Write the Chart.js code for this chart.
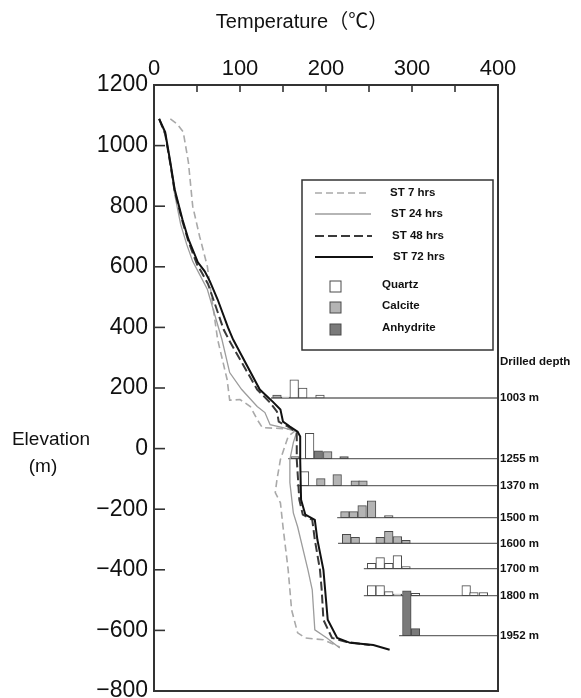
<!DOCTYPE html>
<html><head><meta charset="utf-8">
<script src="https://cdn.jsdelivr.net/npm/chart.js@4.4.0/dist/chart.umd.min.js"></script>
<style>html,body{margin:0;padding:0;background:#fff;}</style>
</head><body>
<canvas id="c" width="581" height="698"></canvas>
<script>
// ---- axis ticks ----
const tempTicks = [0, 100, 200, 300, 400];
const tempMinorTicks = [50, 100, 150, 200, 250, 300, 350];
const elevTicks = [1200, 1000, 800, 600, 400, 200, 0, -200, -400, -600, -800];

// ---- temperature profiles (temperature °C, elevation m) ----
const st7Temp = [19, 27, 34, 40, 45, 53, 62, 68, 74, 85, 88, 92, 100, 112, 120, 126, 150, 166, 156, 147, 143, 141, 147, 150, 156, 158, 160, 167, 176, 197, 216];
const st7Elev = [1088, 1071, 1045, 945, 800, 701, 602, 480, 360, 228, 160, 160, 162, 139, 96, 69, 66, 63, 40, -36, -102, -145, -179, -258, -400, -466, -532, -608, -625, -631, -655];

const st24Temp = [6, 13, 19, 24, 31, 38, 45, 53, 62, 79, 88, 102, 120, 129, 135, 150, 166, 162, 158, 158, 162, 167, 179, 184, 187, 201, 216];
const st24Elev = [1088, 1038, 939, 840, 740, 674, 618, 575, 526, 360, 251, 195, 139, 119, 79, 69, 56, 20, -36, -112, -212, -258, -400, -466, -598, -625, -658];

const st48Temp = [6, 13, 19, 24, 33, 40, 50, 56, 63, 81, 88, 120, 135, 143, 145, 158, 166, 166, 169, 173, 184, 187, 193, 195, 197, 207, 224, 251];
const st48Elev = [1088, 1038, 939, 850, 750, 684, 608, 579, 542, 393, 354, 195, 152, 122, 89, 69, 53, -36, -169, -218, -235, -301, -400, -466, -565, -625, -638, -648];

const st72Temp = [6, 13, 19, 24, 33, 40, 51, 59, 65, 74, 86, 92, 123, 138, 147, 150, 158, 167, 170, 170, 171, 176, 187, 190, 197, 199, 202, 213, 228, 255, 274];
const st72Elev = [1088, 1045, 945, 856, 757, 691, 615, 585, 552, 492, 400, 360, 195, 155, 129, 89, 73, 56, 40, -36, -169, -218, -235, -301, -400, -466, -565, -625, -641, -648, -664];

// ---- drilled depths (baselines of the mineral histograms) ----
const depthLabels = ['1003 m', '1255 m', '1370 m', '1500 m', '1600 m', '1700 m', '1800 m', '1952 m'];
const depthElev = [167, -33, -122, -228, -313, -396, -485, -617];
const depthStartTemp = [136, 156, 166, 213, 214, 244, 244, 285];

// ---- mineral histogram bars: [depth index, temperature °C, bar height m] ----
const quartzBars = [
  [0, 153, 3], [0, 163, 60], [0, 173, 33], [0, 193, 10],
  [1, 181, 83],
  [2, 175, 46],
  [5, 253, 17], [5, 263, 36], [5, 273, 17], [5, 283, 43], [5, 293, 7],
  [6, 253, 33], [6, 263, 33], [6, 273, 13], [6, 283, 5], [6, 304, 7], [6, 363, 33], [6, 372, 10], [6, 383, 10]
];
const calciteBars = [
  [0, 143, 10],
  [1, 164, 7], [1, 202, 23],
  [2, 194, 23], [2, 213, 36], [2, 234, 16], [2, 243, 16],
  [3, 222, 20], [3, 232, 20], [3, 242, 40], [3, 253, 56], [3, 273, 7],
  [4, 224, 30], [4, 234, 20], [4, 263, 20], [4, 273, 40], [4, 283, 23], [4, 293, 10]
];
const anhydriteBars = [
  [1, 191, 26], [1, 221, 7],
  [7, 294, 148], [7, 304, 23]
];

const FONT = '"Liberation Sans", "Noto Sans CJK JP", Arial, sans-serif';

function profile(label, temps, elevs, color, width, dash, order) {
  return {
    type: 'line', label,
    data: temps.map((t, i) => ({x: t, y: elevs[i]})),
    borderColor: color, borderWidth: width, borderDash: dash,
    pointRadius: 0, tension: 0, fill: false, order
  };
}

const datasets = [];
depthElev.forEach((e, i) => {
  datasets.push({
    type: 'line', label: 'base' + i,
    data: [{x: depthStartTemp[i], y: e}, {x: 400, y: e}],
    borderColor: '#6a6a6a', borderWidth: 1.3, pointRadius: 0, order: 6
  });
});
// one bar dataset per mineral and depth, sorted by temperature
[[quartzBars, '#ffffff', 'Quartz'], [calciteBars, '#b4b4b4', 'Calcite'], [anhydriteBars, '#7a7a7a', 'Anhydrite']].forEach(([list, fill, name]) => {
  depthElev.forEach((e, d) => {
    const rows = list.filter(b => b[0] === d).sort((p, q) => p[1] - q[1]);
    if (!rows.length) return;
    datasets.push({
      type: 'bar', label: name + d,
      data: rows.map(b => ({x: b[1], y: [e, e + b[2]]})),
      backgroundColor: fill, borderColor: '#4a4a4a', borderWidth: 1,
      borderSkipped: false, barThickness: 8.6, grouped: false, order: 5
    });
  });
});
datasets.push(profile('ST 7 hrs', st7Temp, st7Elev, '#a9a9a9', 1.6, [7, 4], 4));
datasets.push(profile('ST 24 hrs', st24Temp, st24Elev, '#9c9c9c', 1.3, [], 3));
datasets.push(profile('ST 48 hrs', st48Temp, st48Elev, '#3a3a3a', 2, [9, 4], 2));
datasets.push(profile('ST 72 hrs', st72Temp, st72Elev, '#111111', 2, [], 1));

const decor = {
  id: 'decor',
  afterDraw(chart) {
    const {ctx, chartArea: a, scales: {x, y}} = chart;
    ctx.save();
    // frame
    ctx.strokeStyle = '#333'; ctx.lineWidth = 2;
    ctx.strokeRect(a.left, a.top, a.right - a.left, a.bottom - a.top);
    // inward ticks
    ctx.lineWidth = 1.6;
    tempMinorTicks.forEach(t => {
      const px = x.getPixelForValue(t);
      ctx.beginPath(); ctx.moveTo(px, a.top); ctx.lineTo(px, a.top + 7); ctx.stroke();
    });
    elevTicks.forEach(v => {
      if (v === 1200 || v === -800) return;
      const py = y.getPixelForValue(v);
      ctx.beginPath(); ctx.moveTo(a.left, py); ctx.lineTo(a.left + 11, py); ctx.stroke();
    });
    // titles
    ctx.fillStyle = '#111';
    ctx.font = '20px ' + FONT;
    ctx.textAlign = 'center'; ctx.textBaseline = 'middle';
    ctx.fillText('Temperature（℃）', 302, 22);
    ctx.font = '19px ' + FONT;
    ctx.fillText('Elevation', 51, 440);
    ctx.fillText('(m)', 43, 467);
    // legend box
    const bx = a.left + 148, by = a.top + 95;
    ctx.strokeStyle = '#333'; ctx.lineWidth = 1.5;
    ctx.strokeRect(bx, by, 191, 170);
    const lines = [
      ['ST 7 hrs', '#a9a9a9', 1.6, [7, 4], 13],
      ['ST 24 hrs', '#9c9c9c', 1.3, [], 34],
      ['ST 48 hrs', '#3a3a3a', 2, [9, 4], 56],
      ['ST 72 hrs', '#111111', 2, [], 77]
    ];
    ctx.font = 'bold 11.5px ' + FONT;
    ctx.textAlign = 'left';
    lines.forEach((l, i) => {
      ctx.strokeStyle = l[1]; ctx.lineWidth = l[2]; ctx.setLineDash(l[3]);
      ctx.beginPath(); ctx.moveTo(bx + 13, by + l[4]); ctx.lineTo(bx + 68 + i, by + l[4]); ctx.stroke();
      ctx.setLineDash([]);
      ctx.fillStyle = '#111';
      ctx.fillText(l[0], bx + 88 + i, by + l[4]);
    });
    const mins = [['Quartz', '#ffffff', 107], ['Calcite', '#b4b4b4', 128], ['Anhydrite', '#7a7a7a', 150]];
    mins.forEach(m => {
      ctx.fillStyle = m[1]; ctx.strokeStyle = '#4a4a4a'; ctx.lineWidth = 1;
      ctx.fillRect(bx + 28, by + m[2] - 6, 11, 11);
      ctx.strokeRect(bx + 28, by + m[2] - 6, 11, 11);
      ctx.fillStyle = '#111';
      ctx.fillText(m[0], bx + 80, by + m[2] - 2);
    });
    // drilled depth labels
    ctx.font = 'bold 11.5px ' + FONT;
    ctx.fillText('Drilled depth', a.right + 2, y.getPixelForValue(285));
    depthElev.forEach((e, i) => {
      ctx.fillText(depthLabels[i], a.right + 2, y.getPixelForValue(e));
    });
    ctx.restore();
  }
};

new Chart(document.getElementById('c'), {
  type: 'line',
  data: {datasets},
  options: {
    responsive: false, animation: false, devicePixelRatio: 1,
    layout: {padding: {left: 0, right: 83, top: 0, bottom: 7}, autoPadding: false},
    plugins: {legend: {display: false}, tooltip: {enabled: false}},
    scales: {
      x: {
        type: 'linear', position: 'top', min: 0, max: 400, offset: false,
        afterBuildTicks: s => { s.ticks = tempTicks.map(v => ({value: v})); },
        afterFit: s => { s.height = 85; s.paddingLeft = 0; s.paddingRight = 0; },
        ticks: {font: {size: 22, family: FONT}, color: '#111', padding: 3, maxRotation: 0, autoSkip: false},
        grid: {display: false, drawTicks: false}, border: {display: false}
      },
      y: {
        type: 'linear', position: 'left', min: -800, max: 1200,
        afterBuildTicks: s => { s.ticks = elevTicks.map(v => ({value: v})); },
        afterFit: s => { s.width = 154; s.paddingTop = 0; s.paddingBottom = 0; },
        ticks: {font: {size: 23, family: FONT}, color: '#111', padding: 6, autoSkip: false,
          callback: v => String(v).replace('-', '−')},
        grid: {display: false, drawTicks: false}, border: {display: false}
      }
    }
  },
  plugins: [decor]
});
</script>
</body></html>
